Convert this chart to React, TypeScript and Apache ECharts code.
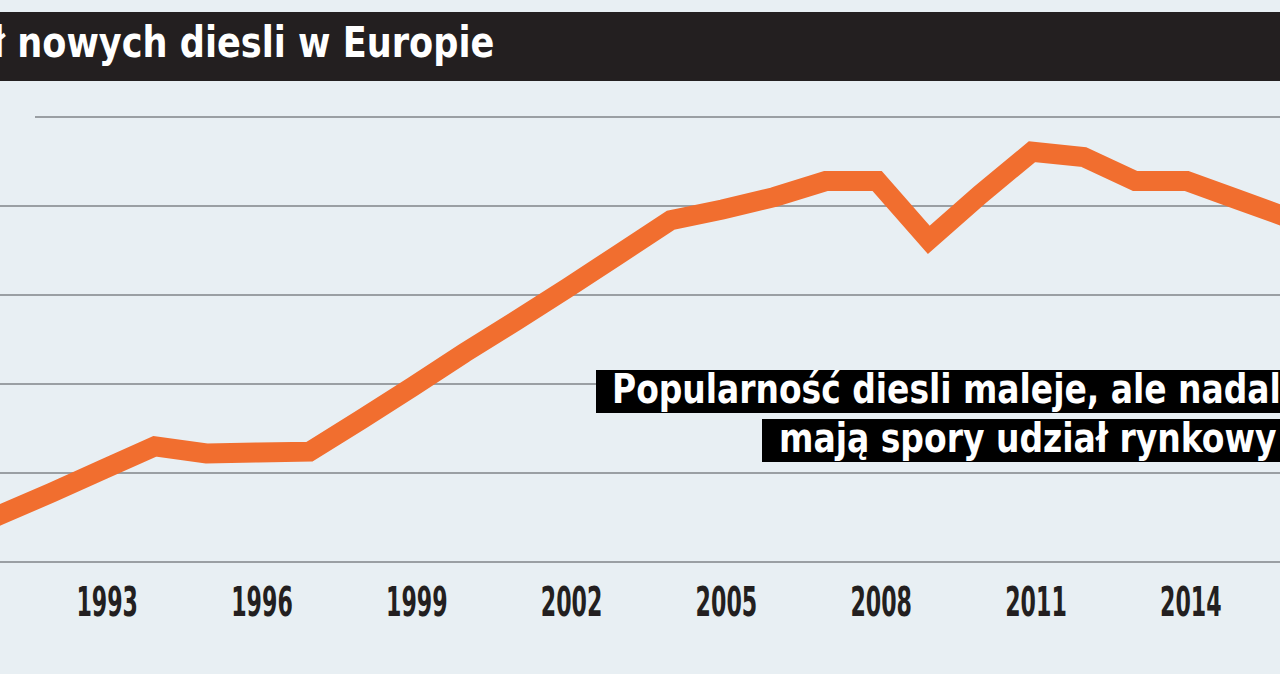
import React, { useEffect, useRef } from "react";
import * as echarts from "echarts";

const years = [1990, 1991, 1992, 1993, 1994, 1995, 1996, 1997, 1998, 1999, 2000, 2001, 2002, 2003, 2004, 2005, 2006, 2007, 2008, 2009, 2010, 2011, 2012, 2013, 2014, 2015, 2016];
const dieselShare = [12.8, 15.3, 17.8, 20.4, 23.0, 22.2, 22.3, 22.4, 26.0, 29.7, 33.5, 37.1, 40.8, 44.6, 48.4, 49.6, 51.0, 52.8, 52.8, 46.2, 51.3, 56.1, 55.5, 52.8, 52.8, 50.7, 48.6];
const yTicks = [10, 20, 30, 40, 50, 60];
const tickYears = [1993, 1996, 1999, 2002, 2005, 2008, 2011, 2014];
const titleText = "ł nowych diesli w Europie";
const noteLine1 = "Popularność diesli maleje, ale nadal";
const noteLine2 = "mają spory udział rynkowy";

const FONT = '"DejaVu Sans Condensed", "DejaVu Sans", sans-serif';
const BG = "#e8eff3";

export default function App() {
  const ref = useRef<HTMLDivElement>(null);
  useEffect(() => {
    if (!ref.current) return;
    const chart = echarts.init(ref.current, undefined, { renderer: "svg" });
    const data = years.map((y, i) => [y, dieselShare[i]]);
    chart.setOption({
      animation: false,
      backgroundColor: BG,
      grid: { left: 0, right: 0, top: 117, bottom: 112, containLabel: false },
      xAxis: {
        type: "value",
        min: 1991,
        max: 1991 + 1280 / 51.6,
        interval: 1,
        axisLine: { show: false },
        axisTick: { show: false },
        splitLine: { show: false },
        axisLabel: { show: false },
      },
      yAxis: {
        type: "value",
        min: yTicks[0],
        max: yTicks[yTicks.length - 1],
        interval: 10,
        axisLine: { show: false },
        axisTick: { show: false },
        axisLabel: { show: false },
        splitLine: { show: true, lineStyle: { color: "#9a9fa3", width: 2 } },
      },
      series: [
        {
          type: "line",
          data,
          symbol: "none",
          lineStyle: { color: "#f16e2f", width: 20, join: "miter", miterLimit: 10, cap: "butt" },
          z: 3,
        },
      ],
    });

    const labelY = chart.convertToPixel({ yAxisIndex: 0 }, yTicks[0]) + 40;
    const tickLabels = tickYears.map((yr) => ({
      type: "text",
      z: 11,
      x: chart.convertToPixel({ xAxisIndex: 0 }, yr) + 4,
      y: labelY,
      scaleX: 0.615,
      style: {
        text: String(yr),
        fill: "#231f20",
        fontFamily: FONT,
        fontWeight: "bold",
        fontSize: 40,
        align: "center",
        verticalAlign: "middle",
      },
    }));

    chart.setOption({
      graphic: [
        { type: "rect", z: 10, shape: { x: 0, y: 12, width: 1280, height: 69 }, style: { fill: "#231f20" } },
        {
          type: "text", z: 11, x: -8, y: 42.5, scaleX: 0.93,
          style: { text: titleText, fill: "#ffffff", fontFamily: FONT, fontWeight: "bold", fontSize: 42, verticalAlign: "middle", align: "left" },
        },
        { type: "rect", z: 1, shape: { x: 0, y: 114, width: 35, height: 6 }, style: { fill: BG } },
        { type: "rect", z: 10, shape: { x: 596, y: 370, width: 700, height: 43 }, style: { fill: "#000000" } },
        {
          type: "text", z: 11, x: 612, y: 389, scaleX: 0.893,
          style: { text: noteLine1, fill: "#ffffff", fontFamily: FONT, fontWeight: "bold", fontSize: 41, verticalAlign: "middle", align: "left" },
        },
        { type: "rect", z: 10, shape: { x: 762, y: 419, width: 530, height: 43 }, style: { fill: "#000000" } },
        {
          type: "text", z: 11, x: 779, y: 437.5, scaleX: 0.895,
          style: { text: noteLine2, fill: "#ffffff", fontFamily: FONT, fontWeight: "bold", fontSize: 41, verticalAlign: "middle", align: "left" },
        },
        ...tickLabels,
      ],
    });
    return () => chart.dispose();
  }, []);
  return <div ref={ref} style={{ position: "absolute", left: 0, top: 0, width: 1280, height: 674 }} />;
}
